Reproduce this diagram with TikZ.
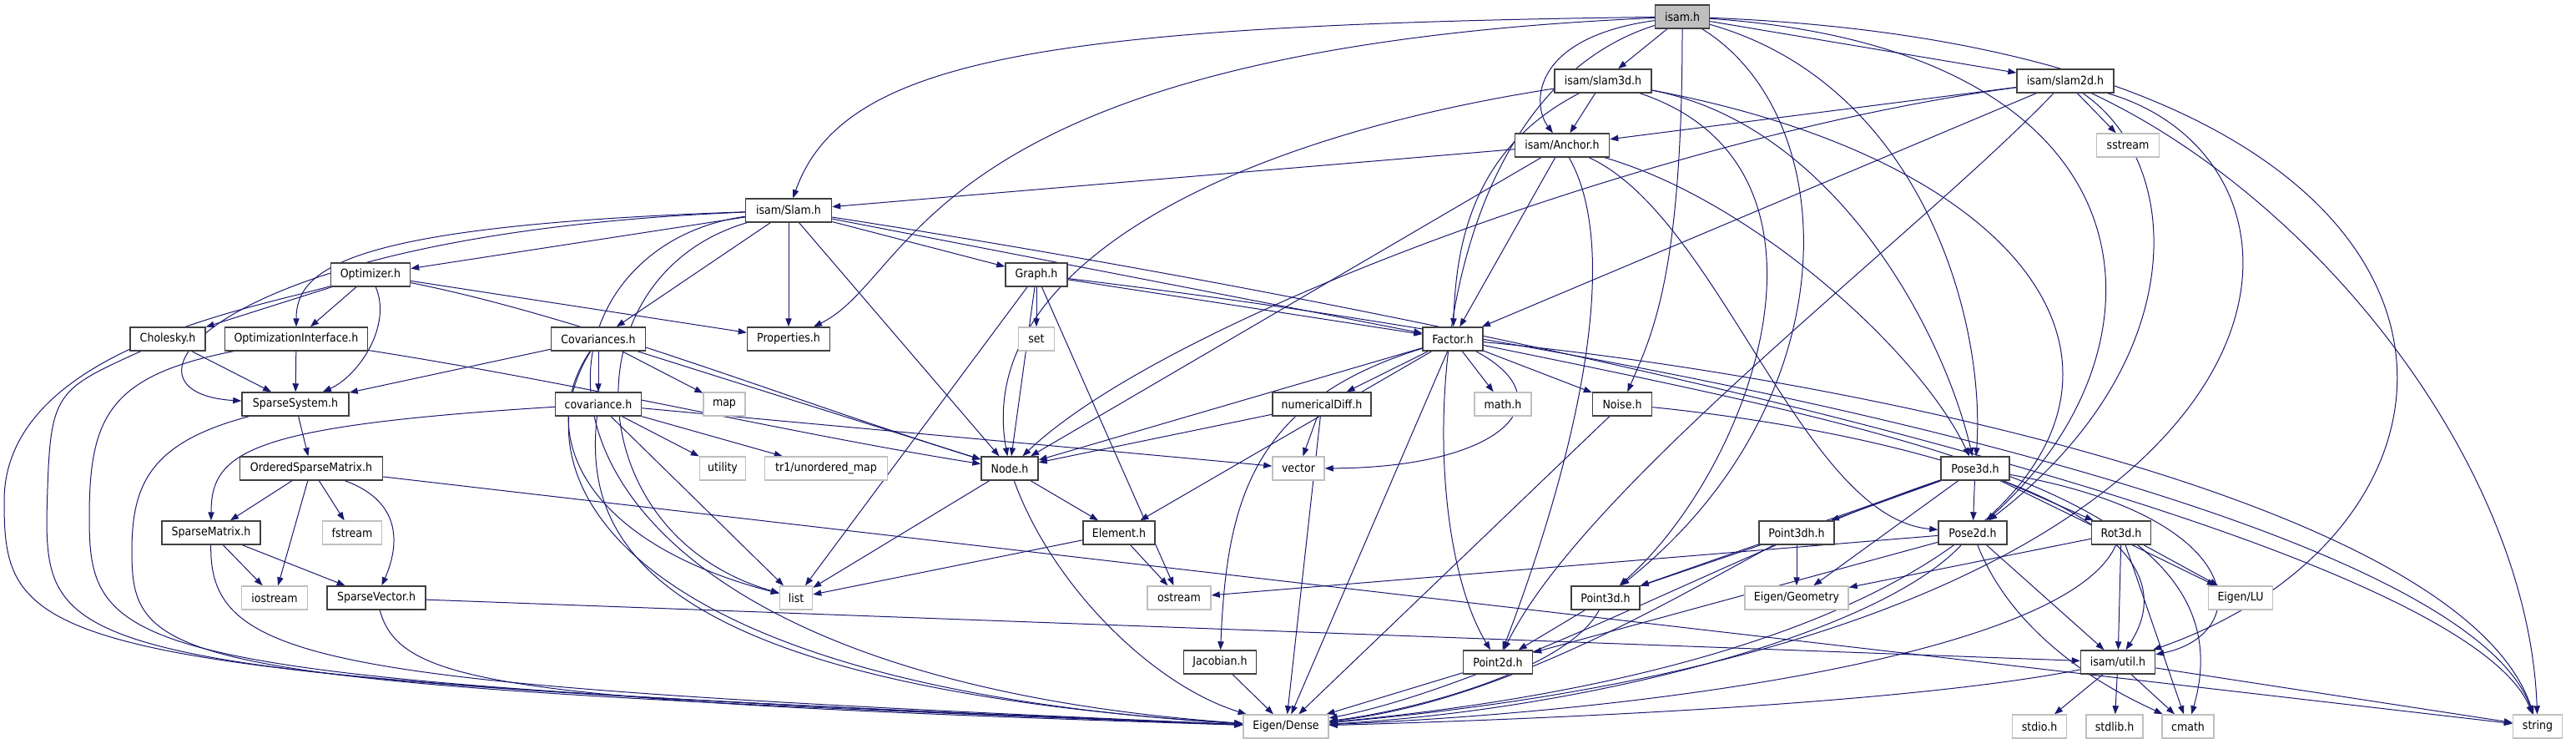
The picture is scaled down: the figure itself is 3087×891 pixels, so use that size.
\documentclass[tikz,border=0pt]{standalone}
\usepackage{fontspec}
\usepackage{tikz}
\usetikzlibrary{arrows.meta}
\newfontfamily\dxfont{DejaVu Sans Condensed}
\definecolor{ColEdge}{RGB}{25,25,112}
\definecolor{ColBox}{RGB}{64,64,64}
\definecolor{ColSys}{RGB}{191,191,191}
\pgfdeclarelayer{edges}
\pgfsetlayers{edges,main}
\tikzset{wd/.style={minimum width=0.75pt*#1}}
\tikzstyle{NodeFile}=[rectangle,draw=ColBox,fill=white,line width=1.1pt,inner sep=0pt,
minimum height=21pt,font=\dxfont\fontsize{10.5}{12}\selectfont]
\tikzstyle{NodeRoot}=[NodeFile,fill=ColSys]
\tikzstyle{NodeSys}=[NodeFile,draw=ColSys]
\tikzstyle{EdgeInc}=[ColEdge,line width=0.75pt,-{Triangle[length=7.5pt,width=5.5pt]}]

\begin{document}
\begin{tikzpicture}[x=0.75pt,y=-0.75pt]
        \useasboundingbox (0,0) rectangle (3087,891);
        % rows of the include graph, top to bottom
        \node[NodeRoot,wd=65](isam)at(2016,20){isam.h};
        \node[NodeFile,wd=116](slam3d)at(1921,97){isam/slam3d.h};
        \node[NodeFile,wd=116](slam2d)at(2475,97){isam/slam2d.h};
        \node[NodeFile,wd=113](Anchor)at(1872,174){isam/Anchor.h};
        \node[NodeSys,wd=75](sstream)at(2550,174){sstream};
        \node[NodeFile,wd=103](Slam)at(945,252){isam/Slam.h};
        \node[NodeFile,wd=95](Optimizer)at(444,329){Optimizer.h};
        \node[NodeFile,wd=74](Graph)at(1242,329){Graph.h};
        \node[NodeFile,wd=90](Cholesky)at(201,406){Cholesky.h};
        \node[NodeFile,wd=171](OptInt)at(355,406){OptimizationInterface.h};
        \node[NodeFile,wd=113](Covariances)at(717,406){Covariances.h};
        \node[NodeFile,wd=99](Properties)at(945,406){Properties.h};
        \node[NodeSys,wd=43](set)at(1242,406){set};
        \node[NodeFile,wd=72](Factor)at(1741,406){Factor.h};
        \node[NodeFile,wd=128](SparseSystem)at(354,484){SparseSystem.h};
        \node[NodeFile,wd=103](covariance)at(717,484){covariance.h};
        \node[NodeSys,wd=50](map)at(868,484){map};
        \node[NodeFile,wd=118](numericalDiff)at(1584,484){numericalDiff.h};
        \node[NodeSys,wd=68](math)at(1801,484){math.h};
        \node[NodeFile,wd=71](Noise)at(1944,484){Noise.h};
        \node[NodeFile,wd=171](OSM)at(373,561){OrderedSparseMatrix.h};
        \node[NodeSys,wd=55](utility)at(866,561){utility};
        \node[NodeSys,wd=147](tr1)at(990,561){tr1/unordered\_map};
        \node[NodeFile,wd=68](Node)at(1210,561){Node.h};
        \node[NodeSys,wd=62](vector)at(1556,561){vector};
        \node[NodeFile,wd=82](Pose3d)at(2367,561){Pose3d.h};
        \node[NodeFile,wd=118](SparseMatrix)at(253,638){SparseMatrix.h};
        \node[NodeSys,wd=71](fstream)at(422,638){fstream};
        \node[NodeFile,wd=86](Element)at(1341,638){Element.h};
        \node[NodeFile,wd=90](Point3dh)at(2153,638){Point3dh.h};
        \node[NodeFile,wd=82](Pose2d)at(2364,638){Pose2d.h};
        \node[NodeFile,wd=71](Rot3d)at(2542,638){Rot3d.h};
        \node[NodeSys,wd=79](iostream)at(329,716){iostream};
        \node[NodeFile,wd=118](SparseVector)at(451,716){SparseVector.h};
        \node[NodeSys,wd=39](list)at(954,716){list};
        \node[NodeSys,wd=76](ostream)at(1413,716){ostream};
        \node[NodeFile,wd=82](Point3d)at(1924,716){Point3d.h};
        \node[NodeSys,wd=124](EigenGeometry)at(2153,716){Eigen/Geometry};
        \node[NodeSys,wd=77](EigenLU)at(2685,716){Eigen/LU};
        \node[NodeFile,wd=87](Jacobian)at(1462,793){Jacobian.h};
        \node[NodeFile,wd=83](Point2d)at(1795,793){Point2d.h};
        \node[NodeFile,wd=89](util)at(2538,793){isam/util.h};
        \node[NodeSys,wd=102](EigenDense)at(1541,870){Eigen/Dense};
        \node[NodeSys,wd=65](stdio)at(2444,870){stdio.h};
        \node[NodeSys,wd=68](stdlib)at(2534,870){stdlib.h};
        \node[NodeSys,wd=62](cmath)at(2622,870){cmath};
        \node[NodeSys,wd=59](string)at(3041,870){string};
        \begin{pgfonlayer}{edges}
        % isam.h
        \draw[EdgeInc](isam)--(slam3d);
        \draw[EdgeInc](isam)--(slam2d);
        \draw[EdgeInc](isam)..controls(1835,45)and(1835,125)..(Anchor);
        \draw[EdgeInc](isam)..controls(1250,30)and(1010,70)..(Slam);
        \draw[EdgeInc](isam)..controls(1100,60)and(1100,330)..(Properties);
        \draw[EdgeInc](isam)..controls(2016,330)and(1980,400)..(Noise);
        \draw[EdgeInc](isam)..controls(1700,120)and(1690,620)..(Point2d);
        \draw[EdgeInc](isam)..controls(2210,140)and(2220,480)..(Point3d);
        \draw[EdgeInc](isam)..controls(2300,100)and(2380,380)..(Pose3d);
        \draw[EdgeInc](isam)..controls(2600,60)and(2610,420)..(Pose2d);
        \draw[EdgeInc](isam)..controls(3031,60)and(3031,620)..(util);
        % isam/slam3d.h
        \draw[EdgeInc](slam3d)--(Anchor);
        \draw[EdgeInc](slam3d)..controls(1760,180)and(1745,300)..(Factor);
        \draw[EdgeInc](slam3d)..controls(1450,170)and(1168,330)..(Node);
        \draw[EdgeInc](slam3d)..controls(2200,150)and(2330,400)..(Pose3d);
        \draw[EdgeInc](slam3d)..controls(2230,200)and(2100,560)..(Point3d);
        \draw[EdgeInc](slam3d)..controls(2680,240)and(2700,760)..(EigenDense);
        % isam/slam2d.h
        \draw[EdgeInc](slam2d)--(Anchor);
        \draw[EdgeInc](slam2d)--(sstream);
        \draw[EdgeInc](slam2d)--(Factor);
        \draw[EdgeInc](slam2d)..controls(2000,160)and(1400,380)..(Node);
        \draw[EdgeInc](slam2d)..controls(2300,280)and(1900,580)..(Point2d);
        \draw[EdgeInc](slam2d)..controls(2623,200)and(2623,440)..(Pose2d);
        \draw[EdgeInc](slam2d)..controls(2780,240)and(3030,560)..(string);
        \draw[EdgeInc](slam2d)..controls(2830,200)and(2800,760)..(EigenDense);
        % isam/Anchor.h
        \draw[EdgeInc](Anchor)--(Slam);
        \draw[EdgeInc](Anchor)--(Node);
        \draw[EdgeInc](Anchor)--(Factor);
        \draw[EdgeInc](Anchor)..controls(1960,330)and(1850,650)..(Point2d);
        \draw[EdgeInc](Anchor)..controls(2060,260)and(2160,620)..(Pose2d);
        \draw[EdgeInc](Anchor)..controls(2100,240)and(2300,420)..(Pose3d);
        % isam/Slam.h
        \draw[EdgeInc](Slam)--(Optimizer);
        \draw[EdgeInc](Slam)..controls(420,270)and(355,320)..(OptInt);
        \draw[EdgeInc](Slam)..controls(250,280)and(120,470)..(SparseSystem);
        \draw[EdgeInc](Slam)..controls(600,300)and(560,800)..(EigenDense);
        \draw[EdgeInc](Slam)..controls(680,330)and(690,640)..(list);
        \draw[EdgeInc](Slam)--(Covariances);
        \draw[EdgeInc](Slam)--(Properties);
        \draw[EdgeInc](Slam)--(Node);
        \draw[EdgeInc](Slam)--(Graph);
        \draw[EdgeInc](Slam)--(Factor);
        \draw[EdgeInc](Slam)..controls(1900,400)and(2950,650)..(string);
        % Optimizer.h
        \draw[EdgeInc](Optimizer)--(Cholesky);
        \draw[EdgeInc](Optimizer)--(OptInt);
        \draw[EdgeInc](Optimizer)..controls(470,390)and(430,450)..(SparseSystem);
        \draw[EdgeInc](Optimizer)--(Properties);
        \draw[EdgeInc](Optimizer)..controls(700,380)and(950,480)..(Node);
        \draw[EdgeInc](Optimizer)..controls(300,370)and(5,420)..(5,600)
            ..controls(5,780)and(40,810)..(EigenDense);
        % Cholesky.h, OptimizationInterface.h, SparseSystem.h
        \draw[EdgeInc](Cholesky)--(SparseSystem);
        \draw[EdgeInc](Cholesky)..controls(60,470)..(56,620)
            ..controls(56,790)and(100,812)..(EigenDense);
        \draw[EdgeInc](OptInt)--(SparseSystem);
        \draw[EdgeInc](OptInt)..controls(700,460)and(950,520)..(Node);
        \draw[EdgeInc](OptInt)..controls(130,450)and(107,500)..(107,620)
            ..controls(107,790)and(150,815)..(EigenDense);
        \draw[EdgeInc](SparseSystem)--(OSM);
        \draw[EdgeInc](SparseSystem)..controls(180,530)and(158,580)..(158,660)
            ..controls(158,800)and(200,820)..(EigenDense);
        % OrderedSparseMatrix.h, SparseMatrix.h, SparseVector.h
        \draw[EdgeInc](OSM)--(SparseMatrix);
        \draw[EdgeInc](OSM)--(iostream);
        \draw[EdgeInc](OSM)--(fstream);
        \draw[EdgeInc](OSM)..controls(480,600)and(480,650)..(SparseVector);
        \draw[EdgeInc](OSM)--(string);
        \draw[EdgeInc](SparseMatrix)--(iostream);
        \draw[EdgeInc](SparseMatrix)--(SparseVector);
        \draw[EdgeInc](SparseMatrix)..controls(250,800)and(400,820)..(EigenDense);
        \draw[EdgeInc](SparseVector)--(util);
        \draw[EdgeInc](SparseVector)..controls(480,820)and(600,840)..(EigenDense);
        % Covariances.h, covariance.h
        \draw[EdgeInc](Covariances)--(SparseSystem);
        \draw[EdgeInc](Covariances)--(covariance);
        \draw[EdgeInc](Covariances)--(map);
        \draw[EdgeInc](Covariances)--(Node);
        \draw[EdgeInc](Covariances)..controls(640,520)and(700,650)..(list);
        \draw[EdgeInc](Covariances)..controls(620,560)and(720,820)..(EigenDense);
        \draw[EdgeInc](covariance)..controls(300,510)and(253,540)..(SparseMatrix);
        \draw[EdgeInc](covariance)--(vector);
        \draw[EdgeInc](covariance)--(list);
        \draw[EdgeInc](covariance)--(utility);
        \draw[EdgeInc](covariance)--(tr1);
        \draw[EdgeInc](covariance)..controls(700,640)and(760,820)..(EigenDense);
        % Graph.h
        \draw[EdgeInc](Graph)--(set);
        \draw[EdgeInc](Graph)--(Node);
        \draw[EdgeInc](Graph)--(list);
        \draw[EdgeInc](Graph)--(ostream);
        \draw[EdgeInc](Graph)--(Factor);
        \draw[EdgeInc](Graph)..controls(2000,420)and(2950,620)..(string);
        % Factor.h
        \draw[EdgeInc](Factor)--(Node);
        \draw[EdgeInc](Factor)--(Element);
        \draw[EdgeInc](Factor)..controls(1500,480)and(1470,600)..(Jacobian);
        \draw[EdgeInc](Factor)--(numericalDiff);
        \draw[EdgeInc](Factor)--(math);
        \draw[EdgeInc](Factor)--(Noise);
        \draw[EdgeInc](Factor)..controls(1880,480)and(1800,560)..(vector);
        \draw[EdgeInc](Factor)--(EigenDense);
        \draw[EdgeInc](Factor)..controls(2300,520)and(2700,600)..(cmath);
        \draw[EdgeInc](Factor)..controls(2200,450)and(2950,600)..(string);
        % numericalDiff.h, Noise.h, Node.h, Element.h, Jacobian.h
        \draw[EdgeInc](numericalDiff)--(Node);
        \draw[EdgeInc](numericalDiff)--(vector);
        \draw[EdgeInc](numericalDiff)--(EigenDense);
        \draw[EdgeInc](Noise)--(EigenDense);
        \draw[EdgeInc](Noise)..controls(2300,520)and(2650,620)..(util);
        \draw[EdgeInc](Node)--(list);
        \draw[EdgeInc](Node)--(Element);
        \draw[EdgeInc](Node)..controls(1260,700)and(1380,820)..(EigenDense);
        \draw[EdgeInc](Element)--(list);
        \draw[EdgeInc](Element)--(ostream);
        \draw[EdgeInc](Jacobian)--(EigenDense);
        % Pose3d.h, Point3dh.h
        \draw[EdgeInc](Pose3d)--(Pose2d);
        \draw[EdgeInc](Pose3d)--(Rot3d);
        \draw[EdgeInc](Pose3d)--(Point3dh);
        \draw[EdgeInc](Pose3d)--(Point3d);
        \draw[EdgeInc](Pose3d)--(EigenGeometry);
        \draw[EdgeInc](Pose3d)--(EigenLU);
        \draw[EdgeInc](Pose3d)..controls(2700,620)and(2700,760)..(util);
        \draw[EdgeInc](Pose3d)..controls(2100,650)and(1800,820)..(EigenDense);
        \draw[EdgeInc](Point3dh)--(Point3d);
        \draw[EdgeInc](Point3dh)--(EigenGeometry);
        \draw[EdgeInc](Point3dh)..controls(2000,720)and(1800,840)..(EigenDense);
        % Pose2d.h, Rot3d.h
        \draw[EdgeInc](Pose2d)--(Point2d);
        \draw[EdgeInc](Pose2d)--(ostream);
        \draw[EdgeInc](Pose2d)--(util);
        \draw[EdgeInc](Pose2d)..controls(2420,780)and(2560,840)..(cmath);
        \draw[EdgeInc](Pose2d)..controls(2250,760)and(1900,850)..(EigenDense);
        \draw[EdgeInc](Rot3d)--(util);
        \draw[EdgeInc](Rot3d)--(cmath);
        \draw[EdgeInc](Rot3d)--(EigenLU);
        \draw[EdgeInc](Rot3d)--(EigenGeometry);
        \draw[EdgeInc](Rot3d)..controls(2480,780)and(2000,850)..(EigenDense);
        % Point3d.h, Point2d.h
        \draw[EdgeInc](Point3d)--(Point2d);
        \draw[EdgeInc](Point3d)..controls(1880,800)and(1700,850)..(EigenDense);
        \draw[EdgeInc](Point2d)--(EigenDense);
        % isam/util.h
        \draw[EdgeInc](util)--(stdio);
        \draw[EdgeInc](util)--(stdlib);
        \draw[EdgeInc](util)--(cmath);
        \draw[EdgeInc](util)--(string);
        \draw[EdgeInc](util)..controls(2300,840)and(1900,860)..(EigenDense);
        \end{pgfonlayer}
    \end{tikzpicture}
\end{document}
